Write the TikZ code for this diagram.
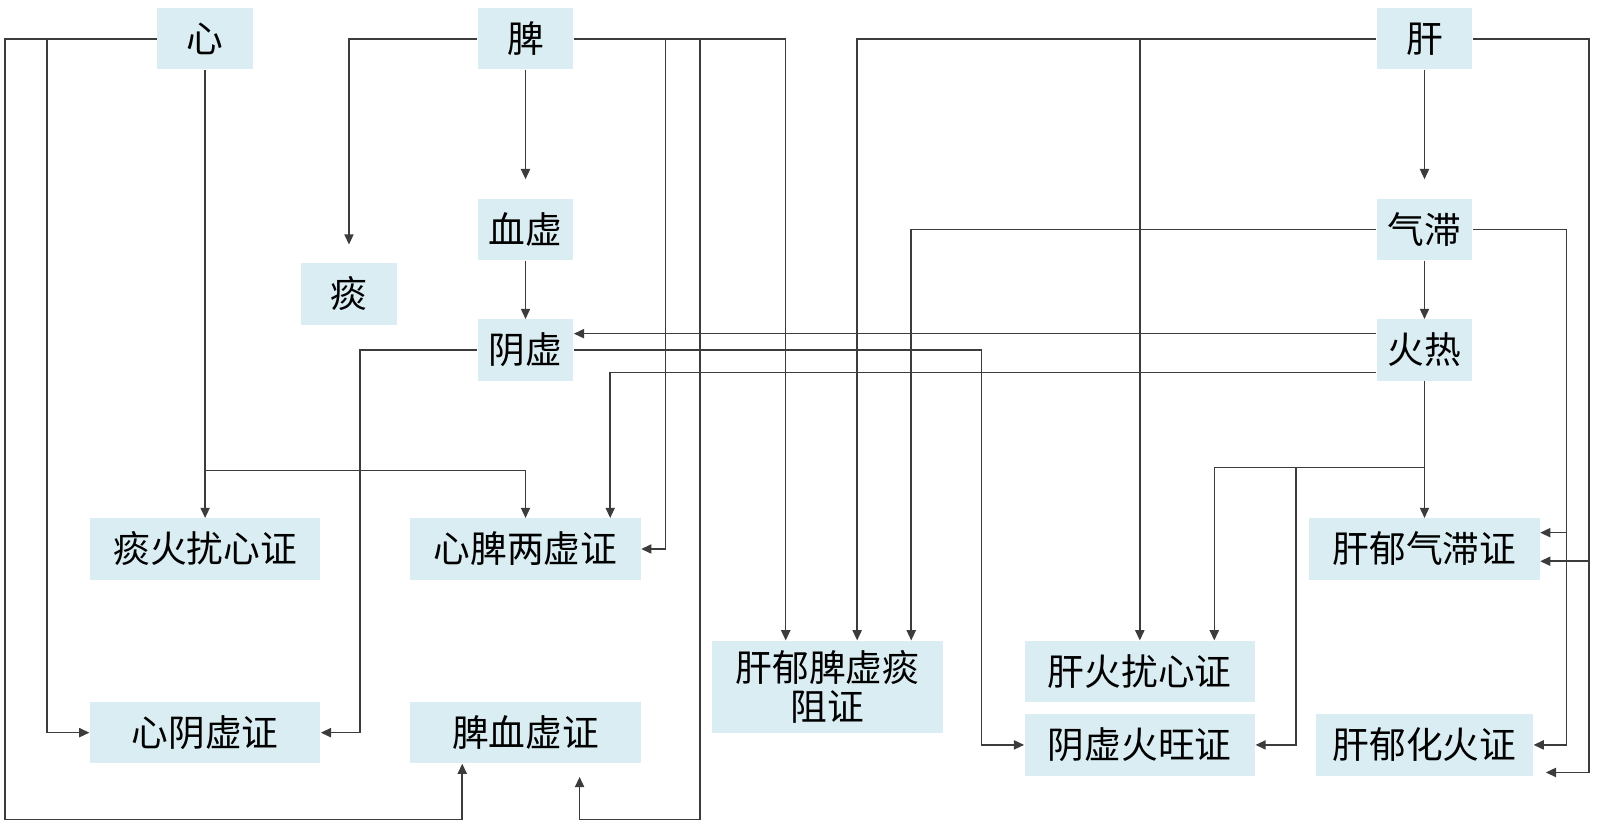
\documentclass[tikz,border=0pt]{standalone}
\usepackage{fontspec}
\newfontfamily\cjk{Noto Sans CJK SC}
\usetikzlibrary{arrows.meta,calc}
\definecolor{boxfill}{HTML}{DAEDF3}
\definecolor{linec}{HTML}{3C3C3C}
\tikzset{
  sbox/.style={fill=boxfill, inner sep=0pt, minimum width=47pt, minimum height=30pt, font=\cjk\fontsize{18}{19}\selectfont, text=black},
  lbox/.style={sbox, minimum width=113pt, align=center},
  arr/.style={draw=linec, line width=0.75pt, -{Triangle[length=5pt,width=4.5pt]}},
}
\begin{document}
\begin{tikzpicture}[x=0.5pt,y=-0.5pt]
\useasboundingbox (0,0) rectangle (1568,810);
% nodes
\node[sbox] (xin) at (201,38) {心};
\node[sbox] (pi) at (515,38) {脾};
\node[sbox] (gan) at (1396,38) {肝};
\node[sbox] (xx) at (515,225) {血虚};
\node[sbox] (tan) at (342,288) {痰};
\node[sbox] (yx) at (515,343) {阴虚};
\node[sbox] (qz) at (1396,225) {气滞};
\node[sbox] (hr) at (1396,343) {火热};
\node[lbox] (thrx) at (201,538) {痰火扰心证};
\node[lbox] (xplx) at (515,538) {心脾两虚证};
\node[lbox] (gyqz) at (1396,538) {肝郁气滞证};
\node[lbox, minimum height=45pt] (gypx) at (811,673) {肝郁脾虚痰\\阻证};
\node[lbox] (ghrx) at (1117,658) {肝火扰心证};
\node[lbox] (yxhw) at (1117,730) {阴虚火旺证};
\node[lbox] (xyx) at (201,718) {心阴虚证};
\node[lbox] (pxx) at (515,718) {脾血虚证};
\node[lbox, minimum width=106.5pt] (gyhh) at (1396,730) {肝郁化火证};
% connectors from 心
\draw[arr] (xin.west) -| (5,803) -| ($(pxx.south)+(-62,0)$);
\draw[arr] (46,38) |- (xyx.west);
\draw[arr] (xin.south) -- (thrx.north);
\draw[arr] (201,461) -| (xplx.north);
% connectors from 脾
\draw[arr, shorten >=9pt] (pi.west) -| (tan.north);
\draw[arr, shorten >=9.5pt] (pi.south) -- (xx.north);
\draw[arr] (xx.south) -- (yx.north);
\draw[arr] (pi.east) -| ($(gypx.north)+(-41,0)$);
\draw[arr] (652,38) |- (xplx.east);
\draw[arr, shorten >=6.5pt] (686,38) |- (568,803) -- ($(pxx.south)+(53,0)$);
% connectors from 肝
\draw[arr] (gan.west) -| ($(gypx.north)+(29,0)$);
\draw[arr] (1117,38) -- (ghrx.north);
\draw[arr, shorten >=9.5pt] (gan.south) -- (qz.north);
\draw[arr, shorten >=6pt] (gan.east) -| (1557,757) -- ($(gyhh.east)+(0,27)$);
\draw[arr] (1557,550) -- ($(gyqz.east)+(0,12)$);
% connectors from 气滞
\draw[arr] (qz.west) -| ($(gypx.north)+(82,0)$);
\draw[arr] (qz.south) -- (hr.north);
\draw[arr] (qz.east) -| (1535,730) -- (gyhh.east);
\draw[arr] (1535,522) -- ($(gyqz.east)+(0,-16)$);
% connectors from 火热
\draw[arr] ($(hr.west)+(0,-16)$) -- ($(yx.east)+(0,-16)$);
\draw[arr] ($(hr.west)+(0,22)$) -| ($(xplx.north)+(83,0)$);
\draw[arr] (hr.south) -- (gyqz.north);
\draw[arr] (1396,458) -| ($(ghrx.north)+(73,0)$);
\draw[arr] (1270,458) |- (yxhw.east);
% connectors from 阴虚
\draw[arr] (yx.east) -| (962,730) -- (yxhw.west);
\draw[arr] (yx.west) -| (353,718) -- (xyx.east);
\end{tikzpicture}
\end{document}
